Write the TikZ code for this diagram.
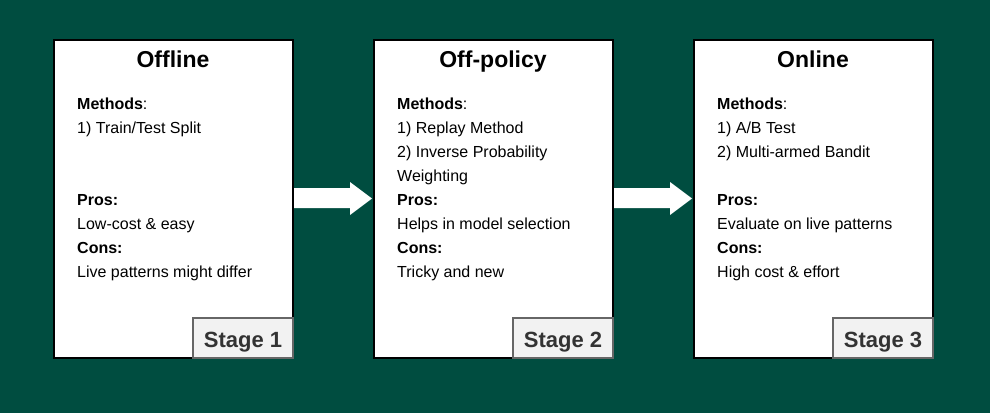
\documentclass[tikz,border=0pt]{standalone}
\usepackage{fontspec}
\setmainfont{Liberation Sans}
\usepackage{tikz}

\definecolor{bggreen}{RGB}{0,77,64}
\definecolor{stagefill}{RGB}{242,242,242}
\definecolor{stageline}{RGB}{102,102,102}
\definecolor{stagetext}{RGB}{51,51,51}

\begin{document}
\begin{tikzpicture}[x=1pt,y=-1pt,
  box/.style={draw=black, line width=2pt, fill=white},
  title/.style={inner sep=0, anchor=base, font=\fontsize{23}{28}\selectfont\bfseries},
  txt/.style={inner sep=0, anchor=base west, font=\fontsize{16}{20}\selectfont},
  stagebox/.style={draw=stageline, line width=2pt, fill=stagefill},
  stagelbl/.style={inner sep=0, anchor=base, text=stagetext, font=\fontsize{22}{26}\selectfont\bfseries},
  blockarrow/.style={fill=white}]

\useasboundingbox (0,0) rectangle (990,413);
\fill[bggreen] (0,0) rectangle (990,413);

% offline
\draw[box] (54,39.5) rectangle (293,358);
\node[title] (offtitle) at (173,67) {Offline};
\node[txt] (offm) at (77,109) {\textbf{Methods}:};
\node[txt] (offm1) at (77,133) {1) Train/Test Split};
\node[txt] (offp) at (77,205) {\textbf{Pros:}};
\node[txt] (offp1) at (77,229) {Low-cost \& easy};
\node[txt] (offc) at (77,253) {\textbf{Cons:}};
\node[txt] (offc1) at (77,277) {Live patterns might differ};
\draw[stagebox] (193,318) rectangle (293,358);
\node[stagelbl] (stage1) at (243,347.5) {Stage 1};

% off-policy
\draw[box] (374,39.5) rectangle (613,358);
\node[title] (offptitle) at (493,67) {Off-policy};
\node[txt] (offpm) at (397,109) {\textbf{Methods}:};
\node[txt] (offpm1) at (397,133) {1) Replay Method};
\node[txt] (offpm2) at (397,157) {2) Inverse Probability};
\node[txt] (offpm3) at (397,181) {Weighting};
\node[txt] (offpp) at (397,205) {\textbf{Pros:}};
\node[txt] (offpp1) at (397,229) {Helps in model selection};
\node[txt] (offpc) at (397,253) {\textbf{Cons:}};
\node[txt] (offpc1) at (397,277) {Tricky and new};
\draw[stagebox] (513,318) rectangle (613,358);
\node[stagelbl] (stage2) at (563,347.5) {Stage 2};

% online
\draw[box] (694,39.5) rectangle (933,358);
\node[title] (ontitle) at (813,67) {Online};
\node[txt] (onm) at (717,109) {\textbf{Methods}:};
\node[txt] (onm1) at (717,133) {1) A/B Test};
\node[txt] (onm2) at (717,157) {2) Multi-armed Bandit};
\node[txt] (onp) at (717,205) {\textbf{Pros:}};
\node[txt] (onp1) at (717,229) {Evaluate on live patterns};
\node[txt] (onc) at (717,253) {\textbf{Cons:}};
\node[txt] (onc1) at (717,277) {High cost \& effort};
\draw[stagebox] (833,318) rectangle (933,358);
\node[stagelbl] (stage3) at (883,347.5) {Stage 3};

% arrows
\fill[blockarrow] (294,188) -- (350,188) -- (350,182) -- (372,198.5) -- (350,215) -- (350,208) -- (294,208) -- cycle;
\fill[blockarrow] (614,188) -- (670,188) -- (670,182) -- (692,198.5) -- (670,215) -- (670,208) -- (614,208) -- cycle;

\end{tikzpicture}
\end{document}
